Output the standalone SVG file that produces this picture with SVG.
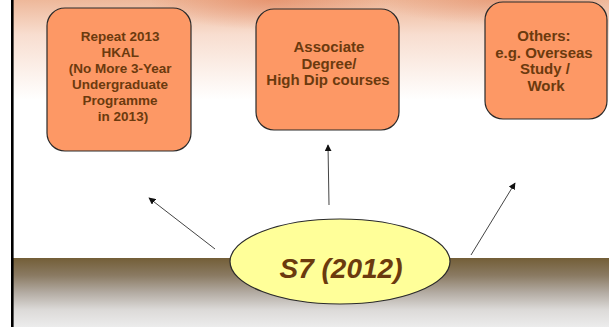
<svg xmlns="http://www.w3.org/2000/svg" width="609" height="327" viewBox="0 0 609 327">
<defs>
<linearGradient id="sky" x1="0" y1="0" x2="0" y2="1">
<stop offset="0" stop-color="#eeb89a"/>
<stop offset="0.35" stop-color="#f8ded0"/>
<stop offset="1" stop-color="#ffffff"/>
</linearGradient>
<radialGradient id="blob1" cx="0.5" cy="0" r="0.5">
<stop offset="0" stop-color="#e07a50" stop-opacity="0.55"/>
<stop offset="1" stop-color="#e07a50" stop-opacity="0"/>
</radialGradient>
<linearGradient id="ground" x1="0" y1="0" x2="0" y2="1">
<stop offset="0" stop-color="#735e37"/>
<stop offset="0.25" stop-color="#8a7a62"/>
<stop offset="0.5" stop-color="#b3aba2"/>
<stop offset="0.75" stop-color="#dcdad8"/>
<stop offset="1" stop-color="#ececec"/>
</linearGradient>
<marker id="ah" viewBox="0 0 10 10" refX="9" refY="5" markerWidth="7" markerHeight="7" markerUnits="userSpaceOnUse" orient="auto">
<path d="M0,0 L10,5 L0,10 z" fill="#111"/>
</marker>
</defs>
<style>
.box{fill:#fd9865;stroke:#2a2a2a;stroke-width:1.2}
.t{font-family:"Liberation Sans",Arial,sans-serif;font-weight:bold;fill:#6b3a0e;text-anchor:middle}
.c{stroke:#444;stroke-width:1;fill:none;marker-end:url(#ah)}
</style>
<rect x="0" y="0" width="609" height="327" fill="#ffffff"/>
<rect x="13" y="0" width="596" height="100" fill="url(#sky)"/>
<rect x="150" y="0" width="240" height="60" fill="url(#blob1)"/>
<rect x="380" y="0" width="229" height="50" fill="url(#blob1)" opacity="0.7"/>
<rect x="13" y="258" width="596" height="69" fill="url(#ground)"/>
<rect x="11" y="0" width="2.6" height="327" fill="#000"/>
<g id="connectors">
<line class="c" x1="215" y1="249" x2="149" y2="198"/>
<line class="c" x1="329" y1="205" x2="328" y2="145"/>
<line class="c" x1="471" y1="255" x2="515" y2="183"/>
</g>
<g id="node-repeat">
<rect class="box" x="47" y="8" width="144" height="143" rx="18"/>
<text class="t" font-size="13.5" x="122" y="41">
<tspan x="122">Repeat 2013</tspan>
<tspan x="122" dy="16">HKAL</tspan>
<tspan x="122" dy="16">(No More 3-Year</tspan>
<tspan x="122" dy="16">Undergraduate</tspan>
<tspan x="122" dy="16">Programme</tspan>
<tspan x="123" dy="16">in 2013)</tspan>
</text>
</g>
<g id="node-associate">
<rect class="box" x="256" y="9" width="143" height="121" rx="18"/>
<text class="t" font-size="15" x="329" y="52">
<tspan x="331">Associate</tspan>
<tspan x="331" dy="16.5">Degree/</tspan>
<tspan x="328" dy="16.5">High Dip courses</tspan>
</text>
</g>
<g id="node-others">
<rect class="box" x="485" y="2" width="122" height="117" rx="18"/>
<text class="t" font-size="15" x="546" y="41">
<tspan x="546">Others:</tspan>
<tspan x="546" dy="16.5">e.g. Overseas</tspan>
<tspan x="547" dy="16.5">Study /</tspan>
<tspan x="546" dy="16.5">Work</tspan>
</text>
</g>
<g id="node-s7">
<ellipse cx="340" cy="261.5" rx="110" ry="42.5" fill="#ffff99" stroke="#2a2a2a" stroke-width="1.2"/>
<text class="t" font-size="28" font-style="italic" x="341" y="278">S7 (2012)</text>
</g>
</svg>
